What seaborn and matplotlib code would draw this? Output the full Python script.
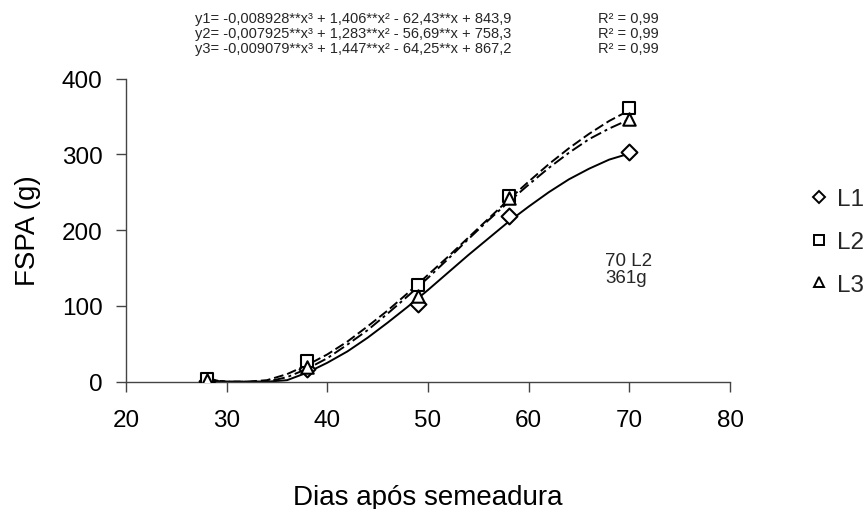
import matplotlib
matplotlib.use("Agg")
import matplotlib.pyplot as plt
from matplotlib.lines import Line2D
import pandas as pd
import seaborn as sns

# Observed FSPA (g) per sampling day
days_obs = [28, 38, 49, 58, 70]
l1_obs = [1, 17, 103, 218, 303]
l2_obs = [3, 27, 127, 245, 361]
l3_obs = [2, 20, 113, 243, 347]

# Fitted cubic curves (values along the regression lines)
days_fit = [28, 30, 32, 34, 36, 38, 40, 42, 44, 46, 48, 50,
            52, 54, 56, 58, 60, 62, 64, 66, 68, 70]
l1_fit = [2, 0, 0, 0, 2, 12, 25, 40, 58, 78, 99, 121,
          144, 167, 189, 211, 231, 250, 267, 281, 293, 301]
l2_fit = [3, 0, 0, 2, 10, 22, 36, 53, 73, 94, 117, 141,
          165, 190, 215, 240, 264, 287, 308, 327, 344, 358]
l3_fit = [3, 0, 0, 0, 6, 17, 31, 49, 68, 90, 113, 137,
          162, 188, 213, 237, 260, 282, 302, 320, 334, 346]

series = ["L1", "L2", "L3"]
equations = [
    "y1= -0,008928**x³ + 1,406**x² - 62,43**x + 843,9",
    "y2= -0,007925**x³ + 1,283**x² - 56,69**x + 758,3",
    "y3= -0,009079**x³ + 1,447**x² - 64,25**x + 867,2",
]
r2_labels = ["R² = 0,99", "R² = 0,99", "R² = 0,99"]

obs = pd.DataFrame({
    "dia": days_obs * 3,
    "fspa": l1_obs + l2_obs + l3_obs,
    "linha": [s for s in series for _ in days_obs],
})
fit = pd.DataFrame({
    "dia": days_fit * 3,
    "fspa": l1_fit + l2_fit + l3_fit,
    "linha": [s for s in series for _ in days_fit],
})

sns.set_theme(style="ticks")
plt.rcParams["font.family"] = ["Liberation Sans", "DejaVu Sans"]

fig = plt.figure(figsize=(8.67, 5.1), dpi=100)
W, H = 867, 510
ax = fig.add_axes([126 / W, 1 - 382.7 / H, (730 - 126) / W, (382.7 - 79.5) / H])

sns.lineplot(data=fit, x="dia", y="fspa", style="linha", ax=ax,
             color="black", linewidth=1.4, legend=False,
             dashes={"L1": "", "L2": (5, 2), "L3": (6, 2, 1.5, 2)})

markers = {"L1": "D", "L2": "s", "L3": "^"}
sizes = {"L1": 65, "L2": 75, "L3": 80}
for s in series:
    sub = obs[obs["linha"] == s]
    sns.scatterplot(data=sub, x="dia", y="fspa", ax=ax, marker=markers[s],
                    s=sizes[s], facecolor="white", edgecolor="black",
                    linewidth=1.5, legend=False, zorder=3)

ax.set_xlim(20, 80)
ax.set_ylim(0, 400)
ax.set_xticks([20, 30, 40, 50, 60, 70, 80])
ax.set_yticks([0, 100, 200, 300, 400])
ax.tick_params(axis="both", direction="out", length=7, width=1,
               color="#444444", labelsize=17.5, labelcolor="black")
ax.tick_params(axis="x", pad=13)
ax.tick_params(axis="y", pad=10)
for side in ["top", "right"]:
    ax.spines[side].set_visible(False)
for side in ["left", "bottom"]:
    ax.spines[side].set_color("#444444")
    ax.spines[side].set_linewidth(1)
ax.set_xlabel("Dias após semeadura", fontsize=20, color="black")
ax.set_ylabel("FSPA (g)", fontsize=20, color="black")
ax.xaxis.set_label_coords(0.5, (382.7 - 485) / 303.2)
ax.yaxis.set_label_coords((41 - 126) / 604, 0.5)

# Regression equations above the plot
for i, (eq, r2) in enumerate(zip(equations, r2_labels)):
    y = 1 - (19 + 15 * i) / H
    fig.text(195 / W, y, eq, fontsize=10.5, va="center", ha="left")
    fig.text(598 / W, y, r2, fontsize=10.5, va="center", ha="left")

fig.text(605 / W, 1 - 270 / H, "70 L2\n361g", fontsize=13.5,
         va="center", ha="left", linespacing=1.05)

handles = [Line2D([], [], linestyle="none", marker=markers[s],
                  markersize=7.5 if s != "L1" else 6.5,
                  markerfacecolor="white", markeredgecolor="black",
                  markeredgewidth=1.4, label=s) for s in series]
fig.legend(handles=handles, loc="center left", bbox_to_anchor=(809 / W, 1 - 243 / H),
           frameon=False, fontsize=17.5, handlelength=0.8, handletextpad=0.35,
           labelspacing=0.86, borderpad=0, borderaxespad=0)

fig.savefig("out.png", dpi=100)
